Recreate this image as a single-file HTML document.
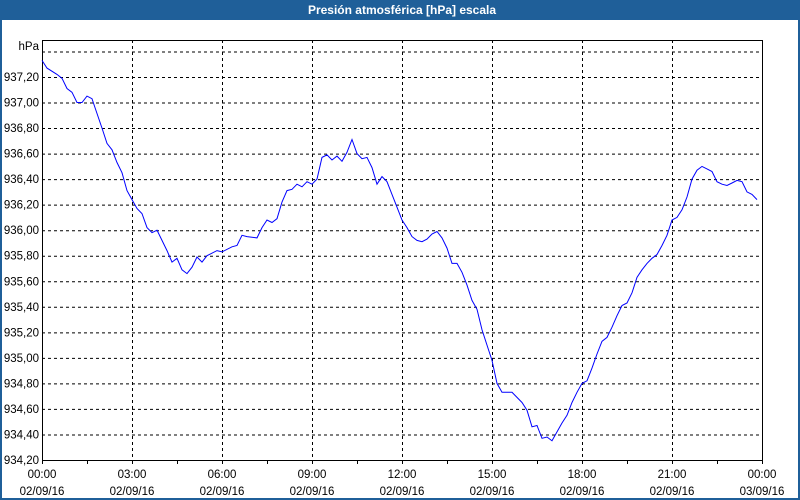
<!DOCTYPE html>
<html><head><meta charset="utf-8"><style>
html,body{margin:0;padding:0;background:#fff;}
#wrap{position:relative;width:800px;height:500px;overflow:hidden;background:#fff;box-sizing:border-box;border-left:2px solid #1f5f99;border-right:2px solid #1f5f99;border-bottom:2px solid #1f5f99;}
#title{position:absolute;left:0;top:0;width:800px;height:20px;background:#1f5f99;color:#fff;font:bold 12px "Liberation Sans",sans-serif;text-align:center;line-height:20px;}
svg{position:absolute;left:0;top:0;}
text{font-family:"Liberation Sans",sans-serif;font-size:11.5px;fill:#000;}
</style></head><body>
<div id="wrap">
<div id="title">Presión atmosférica [hPa] escala</div>
<svg id="chart" width="800" height="500"></svg>
</div>
<script>
const minutes=[0,10,30,40,50,60,70,80,90,100,106,120,130,140,150,160,170,180,190,200,210,220,230,240,250,260,270,280,290,300,310,320,330,350,360,380,390,400,410,430,440,450,460,470,480,490,500,510,520,530,540,550,560,570,580,590,600,610,620,630,640,650,660,670,680,690,700,710,720,730,740,750,760,770,780,790,800,810,820,830,840,850,860,870,880,890,900,910,920,940,950,960,970,980,990,1000,1010,1020,1030,1040,1050,1060,1070,1080,1090,1100,1110,1120,1130,1140,1150,1160,1170,1180,1190,1200,1210,1220,1230,1240,1250,1260,1270,1280,1290,1300,1310,1320,1330,1340,1350,1360,1370,1380,1390,1400,1410,1420,1430];
const pressure=[937.33,937.27,937.22,937.19,937.11,937.08,937.00,937.00,937.05,937.03,936.96,936.80,936.68,936.63,936.53,936.45,936.31,936.24,936.17,936.13,936.02,935.98,936.00,935.92,935.84,935.75,935.78,935.69,935.66,935.71,935.79,935.75,935.80,935.84,935.83,935.87,935.88,935.96,935.95,935.94,936.02,936.08,936.06,936.09,936.22,936.31,936.32,936.36,936.34,936.38,936.36,936.40,936.57,936.59,936.55,936.58,936.54,936.61,936.71,936.60,936.56,936.57,936.49,936.36,936.42,936.38,936.28,936.18,936.08,936.02,935.95,935.92,935.91,935.93,935.97,935.99,935.94,935.86,935.74,935.74,935.67,935.57,935.45,935.38,935.22,935.10,934.98,934.80,934.73,934.73,934.69,934.65,934.59,934.46,934.47,934.37,934.38,934.35,934.42,934.49,934.55,934.65,934.73,934.80,934.82,934.92,935.03,935.13,935.16,935.24,935.33,935.41,935.43,935.51,935.63,935.69,935.74,935.78,935.81,935.88,935.96,936.08,936.10,936.16,936.26,936.40,936.47,936.50,936.48,936.46,936.38,936.36,936.35,936.37,936.39,936.38,936.30,936.28,936.24];
const yTicks=[934.2,934.4,934.6,934.8,935.0,935.2,935.4,935.6,935.8,936.0,936.2,936.4,936.6,936.8,937.0,937.2];
const yGrid=[934.4,934.6,934.8,935.0,935.2,935.4,935.6,935.8,936.0,936.2,936.4,936.6,936.8,937.0,937.2,937.4];
const xTickHours=[0,3,6,9,12,15,18,21,24];
const xTimeLabels=["00:00","03:00","06:00","09:00","12:00","15:00","18:00","21:00","00:00"];
const xDateLabels=["02/09/16","02/09/16","02/09/16","02/09/16","02/09/16","02/09/16","02/09/16","02/09/16","03/09/16"];

const L=40,R=760,T=40,B=460,YMIN=934.2,PXU=127.67;
const xS=h=>L+(R-L)*h/24;
const yS=v=>B-(v-YMIN)*PXU;
const svg=document.getElementById('chart');
const NS='http://www.w3.org/2000/svg';
function mk(tag,attrs){const e=document.createElementNS(NS,tag);for(const k in attrs)e.setAttribute(k,attrs[k]);svg.appendChild(e);return e;}

yGrid.forEach(v=>{const e=mk('line',{x1:L,x2:R,y1:yS(v)+0.5,y2:yS(v)+0.5,stroke:'#000','stroke-dasharray':'3,3','stroke-width':1});

});
xTickHours.slice(1,-1).forEach(h=>{const e=mk('line',{x1:xS(h)+0.5,x2:xS(h)+0.5,y1:T,y2:B,stroke:'#000','stroke-dasharray':'3,3','stroke-width':1});

});
for(let h=0;h<=24;h+=1.5){const e=mk('line',{x1:xS(h)+0.5,x2:xS(h)+0.5,y1:B,y2:B+4,stroke:'#000','stroke-width':1});

}
const ax=mk('polyline',{points:`${L+0.5},${T} ${L+0.5},${B+0.5} ${R+0.5},${B+0.5} ${R+0.5},${T}`,fill:'none',stroke:'#000','stroke-width':1});


const topBorder=mk('line',{x1:L,x2:R+1,y1:T+0.5,y2:T+0.5,stroke:'#000','stroke-width':1});



yTicks.forEach(v=>{const t=mk('text',{x:37,y:yS(v)+4,'text-anchor':'end'});t.textContent=v.toFixed(2).replace('.',',');

});
const u=mk('text',{x:37,y:50,'text-anchor':'end'});u.textContent='hPa';


xTickHours.forEach((h,i)=>{const a=mk('text',{x:xS(h),y:478,'text-anchor':'middle'});a.textContent=xTimeLabels[i];


const b=mk('text',{x:xS(h),y:495,'text-anchor':'middle'});b.textContent=xDateLabels[i];

});

const pts=minutes.map((m,i)=>xS(m/60).toFixed(1)+','+yS(pressure[i]).toFixed(1)).join(' ');
const line=mk('polyline',{points:pts,fill:'none',stroke:'#0000ff','stroke-width':1});


</script>
</body></html>
